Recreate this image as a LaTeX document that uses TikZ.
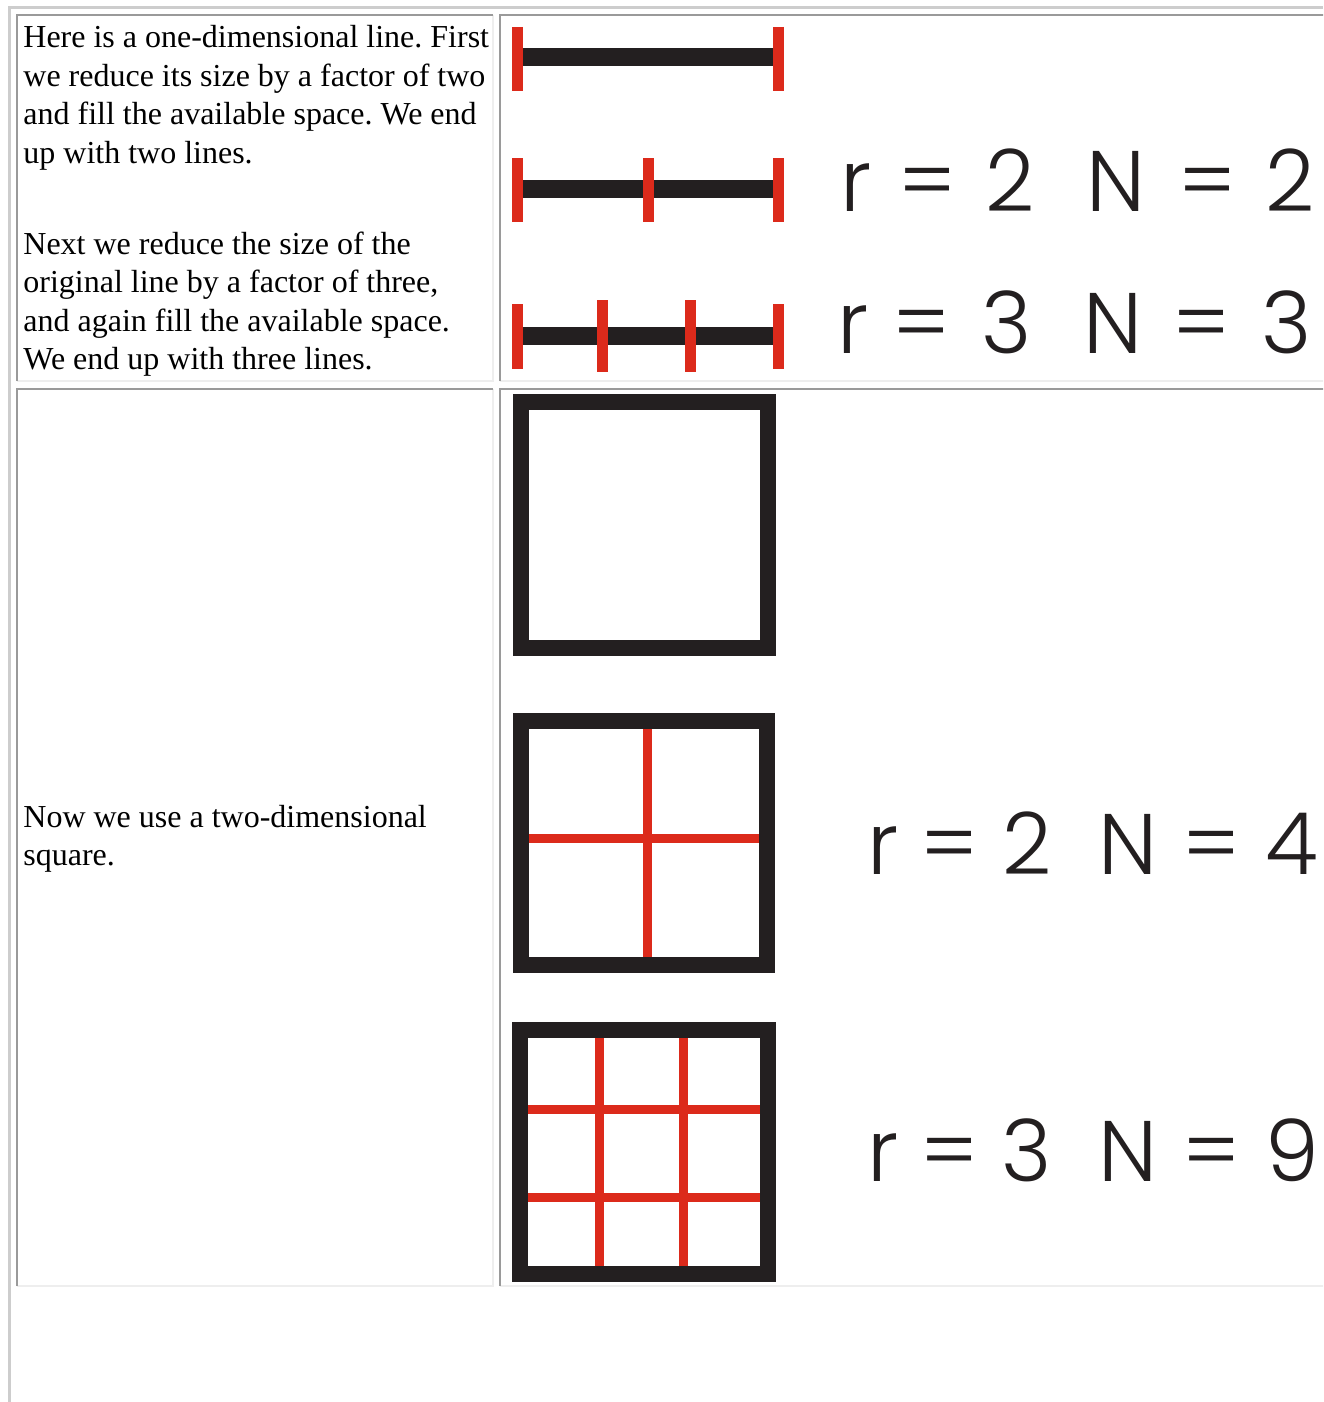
\documentclass[tikz,border=0pt]{standalone}
\usepackage{fontspec}
\setmainfont{Liberation Serif}
\newfontfamily\geofont{Poppins Light}
\definecolor{figblk}{HTML}{231F20}
\definecolor{figred}{HTML}{DC2A1B}
\definecolor{bddark}{HTML}{9A9A9A}
\definecolor{bdlight}{HTML}{EEEEEE}
\definecolor{tbgray}{HTML}{CDCDCD}
\frenchspacing

\begin{document}
\begin{tikzpicture}[
  x=0.5pt, y=-0.5pt,
  every node/.style={inner sep=0pt, text=black},
  para/.style={anchor=base west, font=\fontsize{16}{19}\selectfont},
  eqn/.style={anchor=base, font=\geofont\fontsize{43}{43}\selectfont, text=figblk},
  topleft/.style={bddark, line width=1pt},
  botright/.style={bdlight, line width=1pt},
  bar/.style={figblk, line width=9pt},
  tick/.style={figred, line width=5.5pt},
  frame/.style={figblk, line width=8pt},
  grid/.style={figred, line width=4.5pt},
]

% Page
\clip (0,0) rectangle (1323,1402);
\fill[white] (0,0) rectangle (1323,1402);

% Outer table border
\draw[tbgray, line width=1.5pt] (9,1402) -- (9,8) -- (1323,8);

% Cell borders
\foreach \xa/\ya/\xb/\yb in {17/15/493/381, 500/15/1330/381, 17/389/493/1286, 500/389/1330/1286} {
  \draw[botright] (\xb,\ya) -- (\xb,\yb) -- (\xa,\yb);
  \draw[topleft] (\xa,\yb) -- (\xa,\ya) -- (\xb,\ya);
}

% Text, first row
\node[para] (p1a) at (23,48) {Here is a one-dimensional line. First};
\node[para] (p1b) at (23,86.5) {we reduce its size by a factor of two};
\node[para] (p1c) at (23,125) {and fill the available space. We end};
\node[para] (p1d) at (23,163.5) {up with two lines.};
\node[para] (p2a) at (23,254) {Next we reduce the size of the};
\node[para] (p2b) at (23,292.5) {original line by a factor of three,};
\node[para] (p2c) at (23,331) {and again fill the available space.};
\node[para] (p2d) at (23,369) {We end up with three lines.};

% Text, second row
\node[para] (p3a) at (23,827) {Now we use a two-dimensional};
\node[para] (p3b) at (23,865) {square.};

% Original line
\draw[bar] (517,57.5) -- (778,57.5);
\foreach \x in {517.5,778.5} \draw[tick] (\x,27) -- (\x,91);

% Line cut in two
\draw[bar] (517,188.5) -- (778,188.5);
\foreach \x in {517.5,648,778.5} \draw[tick] (\x,158) -- (\x,222);

% Line cut in three
\draw[bar] (517,335.5) -- (778,335.5);
\foreach \x in {517.5,778.5} \draw[tick] (\x,304) -- (\x,369);
\foreach \x in {602.5,690.5} \draw[tick] (\x,300) -- (\x,372);

% Original square
\draw[frame] (521,402) rectangle (768,648);

% Square cut in four
\draw[grid] (647,721) -- (647,965);
\draw[grid] (521,838) -- (767,838);
\draw[frame] (521,721) rectangle (767,965);

% Square cut in nine
\foreach \x in {599,683} \draw[grid] (\x,1030) -- (\x,1274);
\foreach \y in {1109,1197} \draw[grid] (520,\y) -- (768,\y);
\draw[frame] (520,1030) rectangle (768,1274);

% Scale factors and counts
\foreach \x/\g [count=\i] in {856/r, 927.5/=, 1010/2, 1115.5/N, 1208/=, 1290/2}
  \node[eqn] (ea\i) at (\x,211) {\g};
\foreach \x/\g [count=\i] in {853.5/r, 921.5/=, 1007/3, 1112.5/N, 1202/=, 1287/3}
  \node[eqn] (eb\i) at (\x,353) {\g};
\foreach \x/\g [count=\i] in {883.5/r, 949.5/=, 1027.5/2, 1127.5/N, 1212/=, 1291.5/4}
  \node[eqn] (ec\i) at (\x,874) {\g};
\foreach \x/\g [count=\i] in {883/r, 949.5/=, 1026.5/3, 1127.5/N, 1212/=, 1292.5/9}
  \node[eqn] (ed\i) at (\x,1181) {\g};

\end{tikzpicture}
\end{document}
